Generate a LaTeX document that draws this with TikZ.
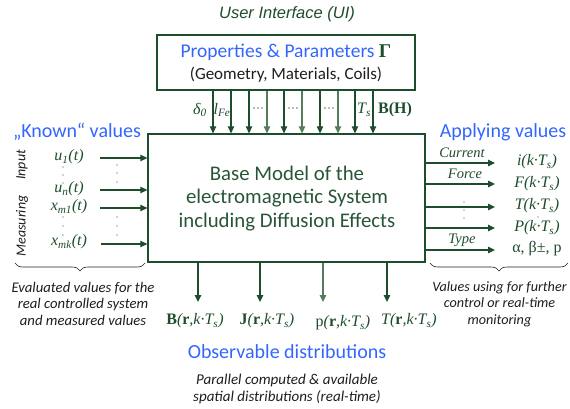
\documentclass[tikz,border=0pt]{standalone}
\usepackage{fontspec}
\setmainfont{Carlito}
\newfontfamily\tms{Liberation Serif}
\newfontfamily\ars{Liberation Sans}
\usetikzlibrary{arrows.meta,decorations.pathreplacing,calc}
\definecolor{dg}{RGB}{30,77,43}
\definecolor{lg}{RGB}{85,125,92}
\definecolor{mg}{RGB}{40,85,55}
\definecolor{bl}{RGB}{51,102,255}
\definecolor{tx}{RGB}{30,30,30}
\begin{document}
\begin{tikzpicture}[x=1pt,y=-1pt,
  arr/.style={draw=dg, line width=1.2pt, -{Triangle[length=7pt,width=6.5pt]}},
  box/.style={draw=dg, line width=1.3pt, inner sep=0pt},
  head/.style={text=bl, inner sep=1pt, font=\fontsize{20}{22}\selectfont},
  mth/.style={text=dg, inner sep=1pt, font=\tms\itshape\fontsize{16}{18}\selectfont},
  lbl/.style={text=dg, inner sep=1pt, font=\tms\itshape\fontsize{14.5}{16}\selectfont},
  capt/.style={text=tx, align=center, inner sep=0pt, font=\itshape\fontsize{14.7}{16.5}\selectfont},
  brc/.style={draw=tx, line width=0.6pt, decorate, decoration={brace, amplitude=8pt}},
  dot/.style={fill=dg, circle, inner sep=0pt, minimum size=1.4pt}
]
\useasboundingbox (0,0) rectangle (570,409);

% user interface and top box
\node[text=dg, font=\ars\itshape\fontsize{16.5}{18}\selectfont] (ui) at (287,14) {User Interface (UI)};
\node[box, minimum width=258pt, minimum height=55pt] (top) at (286,62.5) {};
\node[head, font=\fontsize{19.5}{22}\selectfont] (props) at (286,52) {Properties \& Parameters {\tms\bfseries\color{dg}Γ}};
\node[text=tx, inner sep=1pt, font=\fontsize{17}{19}\selectfont] (geo) at (286,75) {(Geometry, Materials, Coils)};

% main box
\node[box, minimum width=277pt, minimum height=128pt] (main) at (286.5,198) {};
\node[text=mg, align=center, font=\fontsize{20.8}{23.5}\selectfont] (mtext) at (287,198.5) {Base Model of the\\electromagnetic System\\including Diffusion Effects};

% top arrows
\foreach \i/\x/\c in {1/213/dg,2/231/dg,3/249/dg,4/267/lg,5/284/dg,6/302/lg,7/320/dg,8/338/lg,9/355/dg,10/373/dg} {
  \coordinate (tx\i) at (\x,0);
  \draw[arr,draw=\c] (top.south -| tx\i) -- (main.north -| tx\i);
}
\node[mth] (d0) at (200,110) {δ\textsubscript{0}};
\node[mth] (lfe) at (222,110) {l\textsubscript{Fe}};
\node[mth,font=\tms\fontsize{12}{14}\selectfont] (e1) at (258,110) {···};
\node[mth,font=\tms\fontsize{12}{14}\selectfont] (e2) at (293,110) {···};
\node[mth,font=\tms\fontsize{12}{14}\selectfont] (e3) at (329,110) {···};
\node[mth] (ts) at (364,110) {T\textsubscript{s}};
\node[mth, font=\tms\bfseries\fontsize{16}{18}\selectfont] (bh) at (395,110) {B(H)};

% left side
\node[head] (known) at (77,132) {„Known“ values};
\node[capt, font=\itshape\fontsize{14}{16}\selectfont, rotate=90] (inp) at (22,165) {Input};
\node[capt, font=\itshape\fontsize{14}{16}\selectfont, rotate=90] (meas) at (22,226) {Measuring};
\node[mth] (u1) at (69,157) {u\textsubscript{1}(t)};
\node[mth] (un) at (69,189) {u\textsubscript{n}(t)};
\node[mth] (xm1) at (69,207) {x\textsubscript{m1}(t)};
\node[mth] (xmk) at (69,242) {x\textsubscript{mk}(t)};
\coordinate (s1) at (100,158);
\coordinate (s2) at (100,190);
\coordinate (s3) at (100,208);
\coordinate (s4) at (101,244);
\foreach \s in {s1,s2,s3,s4} \draw[arr] (\s) -- (main.west |- \s);
\foreach \y in {167,175,183} \node[dot] (ld\y) at (63,\y) {};
\foreach \y in {217,226,235} \node[dot] (le\y) at (63,\y) {};
\foreach \y in {165,173,182,217,226,235} \node[dot] (lf\y) at (117,\y) {};
\coordinate (bl1) at (145,263);
\coordinate (bl2) at (15,263);
\draw[brc] (bl1) -- (bl2);
\node[capt] (evl) at (83,303.5) {Evaluated values for the\\real controlled system\\and measured values};

% right side
\node[head] (appl) at (503,132) {Applying values};
\coordinate (r1) at (495,163);
\coordinate (r2) at (495,184);
\coordinate (r3) at (495,207);
\coordinate (r4) at (495,228);
\coordinate (r5) at (495,250);
\foreach \r in {r1,r2,r3,r4,r5} \draw[arr] (main.east |- \r) -- (\r);
\node[lbl] (cur) at (462,153) {Current};
\node[lbl] (frc) at (465,174) {Force};
\node[lbl] (typ) at (462,240) {Type};
\foreach \y in {202,210,218} \node[dot] (rd\y) at (464,\y) {};
\node[dot] (rt) at (538,217) {};
\node[mth] (oi) at (537,162) {i(k·T\textsubscript{s})};
\node[mth] (of) at (537,184) {F(k·T\textsubscript{s})};
\node[mth] (ot) at (537,206) {T(k·T\textsubscript{s})};
\node[mth] (op) at (537,228) {P(k·T\textsubscript{s})};
\node[mth, font=\tms\fontsize{16}{18}\selectfont] (oa) at (537,249) {α, β±, p};
\coordinate (br1) at (568,263);
\coordinate (br2) at (430,263);
\draw[brc] (br1) -- (br2);
\node[capt, font=\itshape\fontsize{14.2}{16.5}\selectfont] (vals) at (499.5,304) {Values using for further\\control or real-time\\monitoring};

% bottom
\coordinate (b1) at (198,302);
\coordinate (b2) at (260,302);
\coordinate (b3) at (323,302);
\coordinate (b4) at (387,302);
\draw[arr] (main.south -| b1) -- (b1);
\draw[arr] (main.south -| b2) -- (b2);
\draw[arr,draw=lg] (main.south -| b3) -- (b3);
\draw[arr] (main.south -| b4) -- (b4);
\node[mth] (db) at (195,321) {{\bfseries\upshape B}(\textbf{\upshape r},k·T\textsubscript{s})};
\node[mth] (dj) at (267,321) {{\bfseries\upshape J}(\textbf{\upshape r},k·T\textsubscript{s})};
\node[mth] (dp) at (343,323) {{\upshape p}(\textbf{\upshape r},k·T\textsubscript{s})};
\node[mth] (dt) at (409,321) {T(\textbf{\upshape r},k·T\textsubscript{s})};
\node[head] (obs) at (287,352) {Observable distributions};
\node[capt, font=\itshape\fontsize{15}{17}\selectfont] (par) at (287,389) {Parallel computed \& available\\spatial distributions (real-time)};
\end{tikzpicture}
\end{document}
